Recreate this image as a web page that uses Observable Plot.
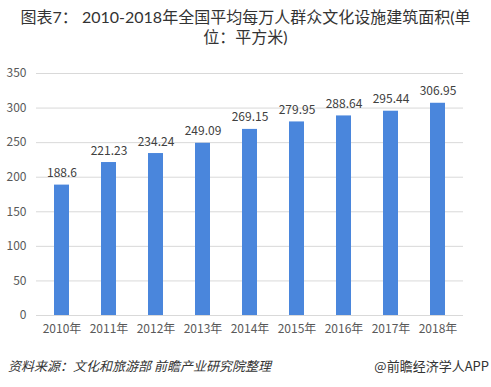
<!DOCTYPE html>
<html><head><meta charset="utf-8">
<script src="https://cdn.jsdelivr.net/npm/d3@7"></script>
<script src="https://cdn.jsdelivr.net/npm/@observablehq/plot@0.6"></script>
<style>
body{margin:0;background:#fff;font-family:"Noto Sans CJK SC",sans-serif;}
#wrap{position:relative;width:491px;height:387px;overflow:hidden;}
#title{position:absolute;left:0;top:7px;width:491px;text-align:center;font-family:Lato,"Noto Sans CJK SC",sans-serif;font-size:16px;color:#333;}
#title div{height:20px;line-height:20px;}
#src{position:absolute;left:8px;top:356px;font-size:13px;font-style:italic;color:#333;}
#brand{position:absolute;right:2px;top:356px;font-size:13px;color:#333;}
#chart{position:absolute;left:0;top:0;}
</style></head>
<body><div id="wrap">
<div id="chart"></div>
<div id="title"><div>图表7： 2010-2018年全国平均每万人群众文化设施建筑面积(单</div><div>位：平方米)</div></div>
<div id="src">资料来源：文化和旅游部 前瞻产业研究院整理</div>
<div id="brand">@前瞻经济学人APP</div>
</div>
<script>
const years = ["2010年","2011年","2012年","2013年","2014年","2015年","2016年","2017年","2018年"];
const values = [188.6,221.23,234.24,249.09,269.15,279.95,288.64,295.44,306.95];
const yTicks = [0,50,100,150,200,250,300,350];
const data = years.map((y,i)=>({year:y,value:values[i]}));
const chart = Plot.plot({
  width:491, height:387,
  marginLeft:36, marginRight:28, marginTop:73, marginBottom:72,
  style:{fontFamily:'"Noto Sans CJK SC",sans-serif',fontSize:"12px",color:"#595959",background:"transparent"},
  x:{domain:years, paddingInner:0.68, paddingOuter:0.34, label:null, tickSize:0, tickPadding:9},
  y:{domain:[0,350], ticks:yTicks, label:null, tickSize:0, tickPadding:10},
  marks:[
    Plot.gridY(yTicks,{stroke:"#d9d9d9",strokeOpacity:1}),
    Plot.barY(data,{x:"year",y:"value",fill:"#4a86dc"}),
    Plot.text(data,{x:"year",y:"value",text:d=>String(d.value),dy:-8,lineAnchor:"bottom",fill:"#404040",fontSize:12}),
    Plot.axisX({tickSize:0,tickPadding:9,fill:"#595959"}),
    Plot.axisY(yTicks,{tickSize:0,tickPadding:10,fill:"#595959"})
  ]
});
document.getElementById("chart").appendChild(chart);
</script>
</body></html>
